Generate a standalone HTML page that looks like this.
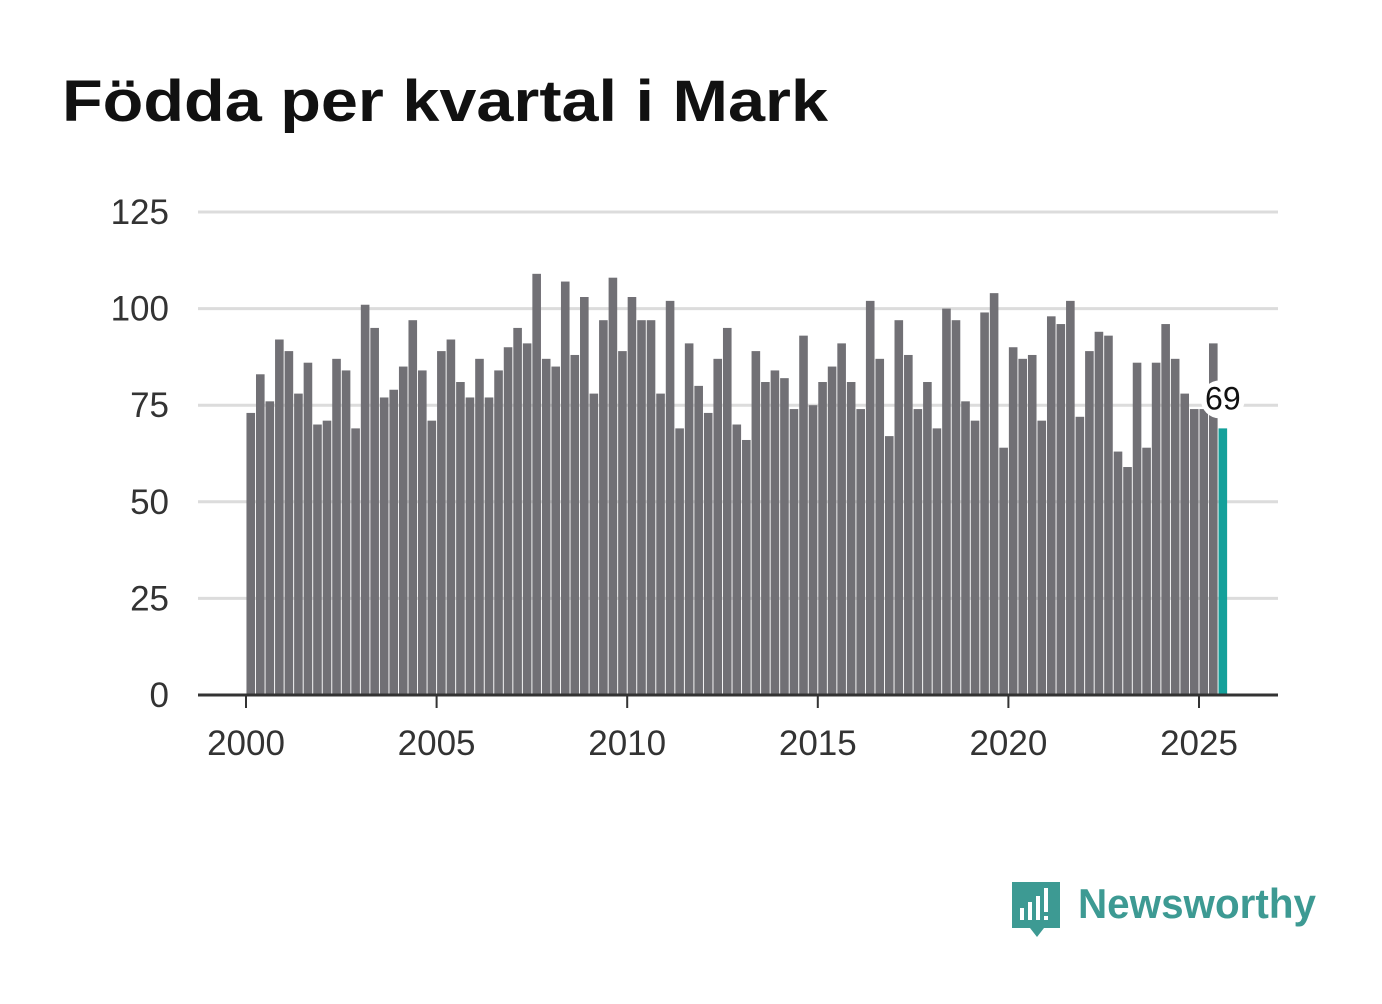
<!DOCTYPE html>
<html><head><meta charset="utf-8"><style>
body{margin:0;background:#fff;width:1382px;height:999px;overflow:hidden;font-family:"Liberation Sans",sans-serif}
</style></head><body>
<svg width="1382" height="999" id="chart">
<text x="62" y="121" font-size="58" font-weight="bold" fill="#111" textLength="766" lengthAdjust="spacingAndGlyphs">Födda per kvartal i Mark</text>
<g id="grid"></g><g id="bars"></g><g id="axes"></g>
<g>
<path d="M1012 882 h48 v46 h-16 l-7 9 l-7 -9 h-18 z" fill="#3d9a93"/>
<rect x="1020" y="908" width="4" height="12" fill="#fff"/><rect x="1028" y="902" width="4" height="18" fill="#fff"/><rect x="1036" y="896" width="4" height="24" fill="#fff"/><rect x="1044" y="888" width="4" height="24" fill="#fff"/><rect x="1044" y="916" width="4" height="4" fill="#fff"/>
<text x="1078" y="918" font-size="42" font-weight="bold" fill="#3d9a93" textLength="238" lengthAdjust="spacingAndGlyphs">Newsworthy</text>
</g>
</svg>
<script>
const years=[2000,2005,2010,2015,2020,2025];
const yTicks=[0,25,50,75,100,125];
const values=[73,83,76,92,89,78,86,70,71,87,84,69,101,95,77,79,85,97,84,71,89,92,81,77,87,77,84,90,95,91,109,87,85,107,88,103,78,97,108,89,103,97,97,78,102,69,91,80,73,87,95,70,66,89,81,84,82,74,93,75,81,85,91,81,74,102,87,67,97,88,74,81,69,100,97,76,71,99,104,64,90,87,88,71,98,96,102,72,89,94,93,63,59,86,64,86,96,87,78,74,74,91,69];
const startYear=2000;
const NS="http://www.w3.org/2000/svg";
const x=t=>246+(t-2000)*38.12;
const y=v=>695-v*3.864;
function mk(tag,attrs,parent){const e=document.createElementNS(NS,tag);for(const k in attrs)e.setAttribute(k,attrs[k]);document.getElementById(parent).appendChild(e);return e;}
yTicks.forEach(v=>{
 if(v>0){const l=mk('line',{x1:198,x2:1278,y1:y(v),y2:y(v),stroke:'#dcdcdc','stroke-width':3},'grid');
 
 }
 const t=mk('text',{x:169,y:y(v)+12,'font-size':35,fill:'#333','text-anchor':'end'},'axes');t.textContent=v;
 
 
});
values.forEach((v,i)=>{
 const t=startYear+(i+0.5)/4, last=i===values.length-1;
 const r=mk('rect',{x:x(t)-4.3,y:y(v),width:8.6,height:y(0)-y(v),fill:last?'#14a09a':'#717075'},'bars');
 
 
 if(last){
  const bg=mk('rect',{x:x(t)-22,y:y(v)-48,width:44,height:38,rx:19,fill:'#fff'},'bars');
  
  
  const lb=mk('text',{x:x(t),y:y(v)-19,'font-size':32,fill:'#111','text-anchor':'middle'},'bars');lb.textContent=v;
  
  
 }
});
const ax=mk('line',{x1:198,x2:1278,y1:695,y2:695,stroke:'#333','stroke-width':3},'axes');


years.forEach(yr=>{
 const tk=mk('line',{x1:x(yr),x2:x(yr),y1:695,y2:708,stroke:'#333','stroke-width':2},'axes');
 
 
 const t=mk('text',{x:x(yr),y:755,'font-size':35,fill:'#333','text-anchor':'middle'},'axes');t.textContent=yr;
 
 
});
</script>
</body></html>
